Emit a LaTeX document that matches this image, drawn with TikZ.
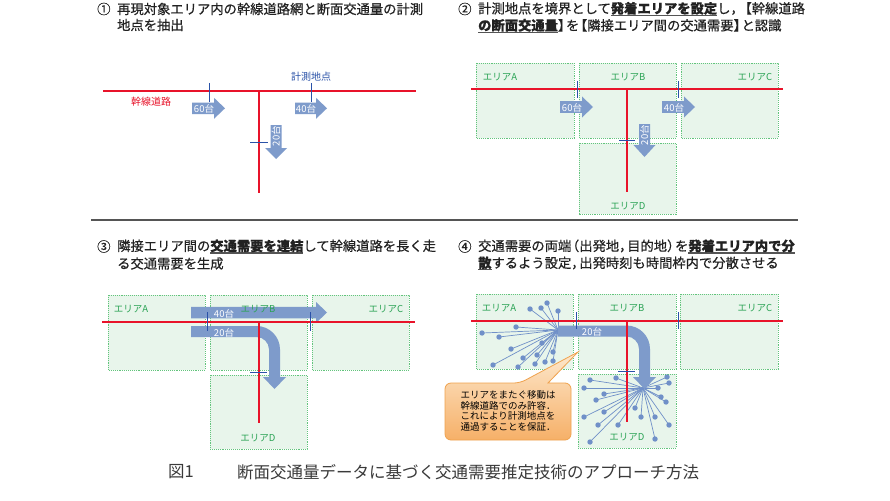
\documentclass[tikz,border=0pt]{standalone}
\usepackage{fontspec}
\setmainfont{Noto Sans CJK JP}
\newfontfamily\headfont{Noto Sans CJK JP}[FakeBold=0.5]
\definecolor{areagreen}{HTML}{62C47C}
\definecolor{areafill}{HTML}{E8F5EB}
\definecolor{labelgreen}{HTML}{2BA355}
\definecolor{roadred}{HTML}{E8132A}
\definecolor{gaugeblue}{HTML}{2A52A8}
\definecolor{flowblue}{HTML}{7E9BCB}
\definecolor{fanblue}{HTML}{7090C8}
\definecolor{titlegray}{HTML}{222222}
\definecolor{rulegray}{HTML}{555555}
\definecolor{captiongray}{HTML}{3A3A3A}
\definecolor{calloutline}{HTML}{EFA24E}
\definecolor{callouttop}{HTML}{FDE8CD}
\definecolor{calloutbottom}{HTML}{F6B068}
% underline for emphasised phrases in the headings
\newcommand\markul[1]{\setbox0\hbox{#1}\rlap{\color{rulegray}\rule[-2.6pt]{\wd0}{1.3pt}}\box0}
% tighter spacing around full-width punctuation
\newcommand\tp{\kern-0.4em}
% straight flow arrow pointing right: x start, head start, tip, y centre
\newcommand\flowright[4]{\fill[flow] (#1,{#4-5.75}) -- (#2,{#4-5.75}) -- (#2,{#4-10.5}) -- (#3,#4) -- (#2,{#4+10.5}) -- (#2,{#4+5.75}) -- (#1,{#4+5.75}) -- cycle;}
% straight flow arrow pointing down: x centre, y start, head start, tip
\newcommand\flowdown[4]{\fill[flow] ({#1-5.5},#2) -- ({#1+5.5},#2) -- ({#1+5.5},#3) -- ({#1+11},#3) -- (#1,#4) -- ({#1-11},#3) -- ({#1-5.5},#3) -- cycle;}
% flow arrow turning from right to down: x start, y centre, x centre, head start, tip
\newcommand\flowbend[5]{\fill[flow] (#1,{#2-5.5}) -- ({#3-18},{#2-5.5}) .. controls ({#3-5},{#2-5.5}) and ({#3+5.5},{#2+5}) .. ({#3+5.5},{#2+18}) -- ({#3+5.5},#4) -- ({#3+11.5},#4) -- (#3,#5) -- ({#3-11.5},#4) -- ({#3-5.5},#4) -- ({#3-5.5},{#2+18}) .. controls ({#3-5.5},{#2+11.1}) and ({#3-11.1},{#2+5.5}) .. ({#3-18},{#2+5.5}) -- (#1,{#2+5.5}) -- cycle;}
\tikzset{
  area/.style={draw=areagreen, densely dotted, line width=0.9pt, fill=areafill},
  road/.style={draw=roadred, line width=1.8pt},
  gauge/.style={draw=gaugeblue, line width=0.9pt},
  flow/.style={fill=flowblue},
  arealabel/.style={text=labelgreen, inner sep=0, font=\fontsize{9.5}{10}\selectfont},
  flowlabel/.style={text=white, inner sep=0, font=\fontsize{9.5}{10}\selectfont},
  heading/.style={anchor=west, inner sep=0, text=titlegray, font=\headfont\fontsize{13.3}{14}\selectfont},
  fanline/.style={draw=fanblue, line width=0.7pt},
  callout/.style={draw=calloutline, line width=0.8pt, top color=callouttop, bottom color=calloutbottom},
}
\begin{document}
\begin{tikzpicture}[x=1pt,y=-1pt]
\useasboundingbox (0,0) rectangle (890,500);
\fill[white] (0,0) rectangle (890,500);

% ---------- headings ----------
\node[heading] (h1n) at (97,9) {①};
\node[heading] (h1a) at (117,9) {再現対象エリア内の幹線道路網と断面交通量の計測};
\node[heading] (h1b) at (117,25) {地点を抽出};
\node[heading] (h2n) at (458,9) {②};
\node[heading] (h2a) at (478,9) {計測地点を境界として\markul{\bfseries 発着エリアを設定}し，\tp【幹線道路};
\node[heading] (h2b) at (478,26) {\markul{\bfseries の断面交通量}】\tp を\tp【隣接エリア間の交通需要】\tp と認識};
\node[heading] (h3n) at (97,246.5) {③};
\node[heading] (h3a) at (117,246.5) {隣接エリア間の\markul{\bfseries 交通需要を連結}して幹線道路を長く走};
\node[heading] (h3b) at (117,263.5) {る交通需要を生成};
\node[heading] (h4n) at (458,246.5) {④};
\node[heading] (h4a) at (478,246.5) {交通需要の両端\tp（出発地，\tp 目的地）\tp を\markul{\bfseries 発着エリア内で分}};
\node[heading] (h4b) at (478,263.5) {\markul{\bfseries 散}するよう設定，\tp 出発時刻も時間枠内で分散させる};

% separator between the upper and lower rows
\coordinate (sepL) at (91,220);
\coordinate (sepR) at (798,220);
\draw[rulegray, line width=1.2pt] (sepL) -- (sepR);

% ---------- panel 1: road network and counting points ----------
\flowright{192}{214}{225}{108.3}
\flowright{295}{316}{327}{108.3}
\flowdown{276}{125}{148}{159}
\coordinate (r1w) at (103,91);
\coordinate (r1e) at (416,91);
\coordinate (r1j) at (259,91);
\coordinate (r1s) at (259,193);
\draw[road] (r1w) -- (r1e);
\draw[road] (r1j) -- (r1s);
\draw[gauge] (209,83) -- (209,102);
\draw[gauge] (311,83) -- (311,102);
\draw[gauge] (250,142) -- (268,142);
\node[text=roadred, font=\fontsize{10}{10}\selectfont, inner sep=0] (lroad) at (151,102) {幹線道路};
\node[text=gaugeblue, font=\fontsize{10}{10}\selectfont, inner sep=0] (lgauge) at (311,76.5) {計測地点};
\node[flowlabel] (f1a) at (204,109) {60台};
\node[flowlabel] (f1b) at (306,109) {40台};
\node[flowlabel, rotate=90] (f1c) at (276,136) {20台};

% ---------- panel 2: areas bounded by counting points ----------
\path[area] (476,63) rectangle (574,138);
\path[area] (579,63) rectangle (676,138);
\path[area] (681,63) rectangle (778,138);
\path[area] (579,143) rectangle (676,214);
\flowright{560}{582}{593}{107}
\flowright{662}{684}{695}{107}
\flowdown{644.5}{124}{145}{157}
\coordinate (r2w) at (471,89);
\coordinate (r2e) at (783,89);
\coordinate (r2j) at (627,89);
\coordinate (r2s) at (627,192);
\draw[road] (r2w) -- (r2e);
\draw[road] (r2j) -- (r2s);
\draw[gauge] (577,81) -- (577,98);
\draw[gauge] (678,81) -- (678,98);
\draw[gauge] (619,140) -- (635,140);
\node[arealabel] (a2A) at (500,77) {エリアA};
\node[arealabel] (a2B) at (628,77) {エリアB};
\node[arealabel] (a2C) at (755,77) {エリアC};
\node[arealabel] (a2D) at (628,206) {エリアD};
\node[flowlabel] (f2a) at (572,108) {60台};
\node[flowlabel] (f2b) at (674,108) {40台};
\node[flowlabel, rotate=90] (f2c) at (644.5,135) {20台};

% ---------- panel 3: chained demand ----------
\path[area] (108,295) rectangle (205,370);
\path[area] (210,295) rectangle (307,370);
\path[area] (312,295) rectangle (409,370);
\path[area] (210,375) rectangle (307,449);
\flowright{191}{316}{327}{312.5}
\flowbend{191}{331.5}{274.5}{377}{389}
\coordinate (r3w) at (102,322);
\coordinate (r3e) at (415,322);
\coordinate (r3j) at (259,322);
\coordinate (r3s) at (259,423);
\draw[road] (r3w) -- (r3e);
\draw[road] (r3j) -- (r3s);
\draw[gauge] (207,312) -- (207,331);
\draw[gauge] (310,312) -- (310,331);
\draw[gauge] (250,372) -- (267,372);
\node[arealabel] (a3A) at (131,309) {エリアA};
\node[arealabel] (a3B) at (258,309) {エリアB};
\node[arealabel] (a3C) at (386,309) {エリアC};
\node[arealabel] (a3D) at (258,438) {エリアD};
\node[flowlabel] (f3a) at (224,314) {40台};
\node[flowlabel] (f3b) at (224,333) {20台};

% ---------- panel 4: trip ends spread inside the areas ----------
\path[area] (476,294) rectangle (573,369);
\path[area] (578,294) rectangle (676,369);
\path[area] (680,294) rectangle (778,369);
\path[area] (578,374) rectangle (676,448);
\coordinate (fanA) at (558,330);
\coordinate (fanD) at (643,388);
\foreach \px/\py in {547/303,530/309,541/308,558/311,516/327,482/333,499/337,542/343,511/349,553/352,523/358,537/355,493/365,518/367,535/364,545/362,553/361}{
  \draw[fanline] (fanA) -- (\px,\py);
  \fill[fanblue] (\px,\py) circle (2.7pt);
}
\foreach \px/\py in {590/380,616/378,667/377,669/383,584/388,604/394,658/388,596/400,661/397,666/402,635/408,604/412,584/417,641/417,655/417,618/425,598/425,669/425,655/439,590/442}{
  \draw[fanline] (fanD) -- (\px,\py);
  \fill[fanblue] (\px,\py) circle (2.7pt);
}
\flowbend{558}{331}{644.5}{377}{389}
\coordinate (r4w) at (471,321);
\coordinate (r4e) at (783,321);
\coordinate (r4j) at (627,321);
\coordinate (r4s) at (627,422);
\draw[road] (r4w) -- (r4e);
\draw[road] (r4j) -- (r4s);
\draw[gauge] (576,312) -- (576,329);
\draw[gauge] (678,312) -- (678,329);
\draw[gauge] (618,371) -- (635,371);
\node[arealabel] (a4A) at (499,308) {エリアA};
\node[arealabel] (a4B) at (627,308) {エリアB};
\node[arealabel] (a4C) at (755,308) {エリアC};
\node[arealabel] (a4D) at (627,437) {エリアD};
\node[flowlabel] (f4a) at (592,332) {20台};

% callout with pointer
\path[callout, rounded corners=6pt] (445,383) -- (520,383) [sharp corners] -- (578,352) -- (548,383) [rounded corners=6pt] -- (571,383) -- (571,440) -- (445,440) -- cycle;
\node[align=center, inner sep=0, text=black, font=\fontsize{9.5}{10.7}\selectfont] (note) at (508,411)
  {エリアをまたぐ移動は\\幹線道路でのみ許容．\\これにより計測地点を\\通過することを保証．};

% ---------- caption ----------
\node[anchor=west, inner sep=0, text=captiongray, font=\fontsize{16.5}{17}\selectfont] (capn) at (168,472) {図1};
\node[anchor=west, inner sep=0, text=captiongray, font=\fontsize{16.5}{17}\selectfont] (capt) at (237,472) {断面交通量データに基づく交通需要推定技術のアプローチ方法};
\end{tikzpicture}
\end{document}
